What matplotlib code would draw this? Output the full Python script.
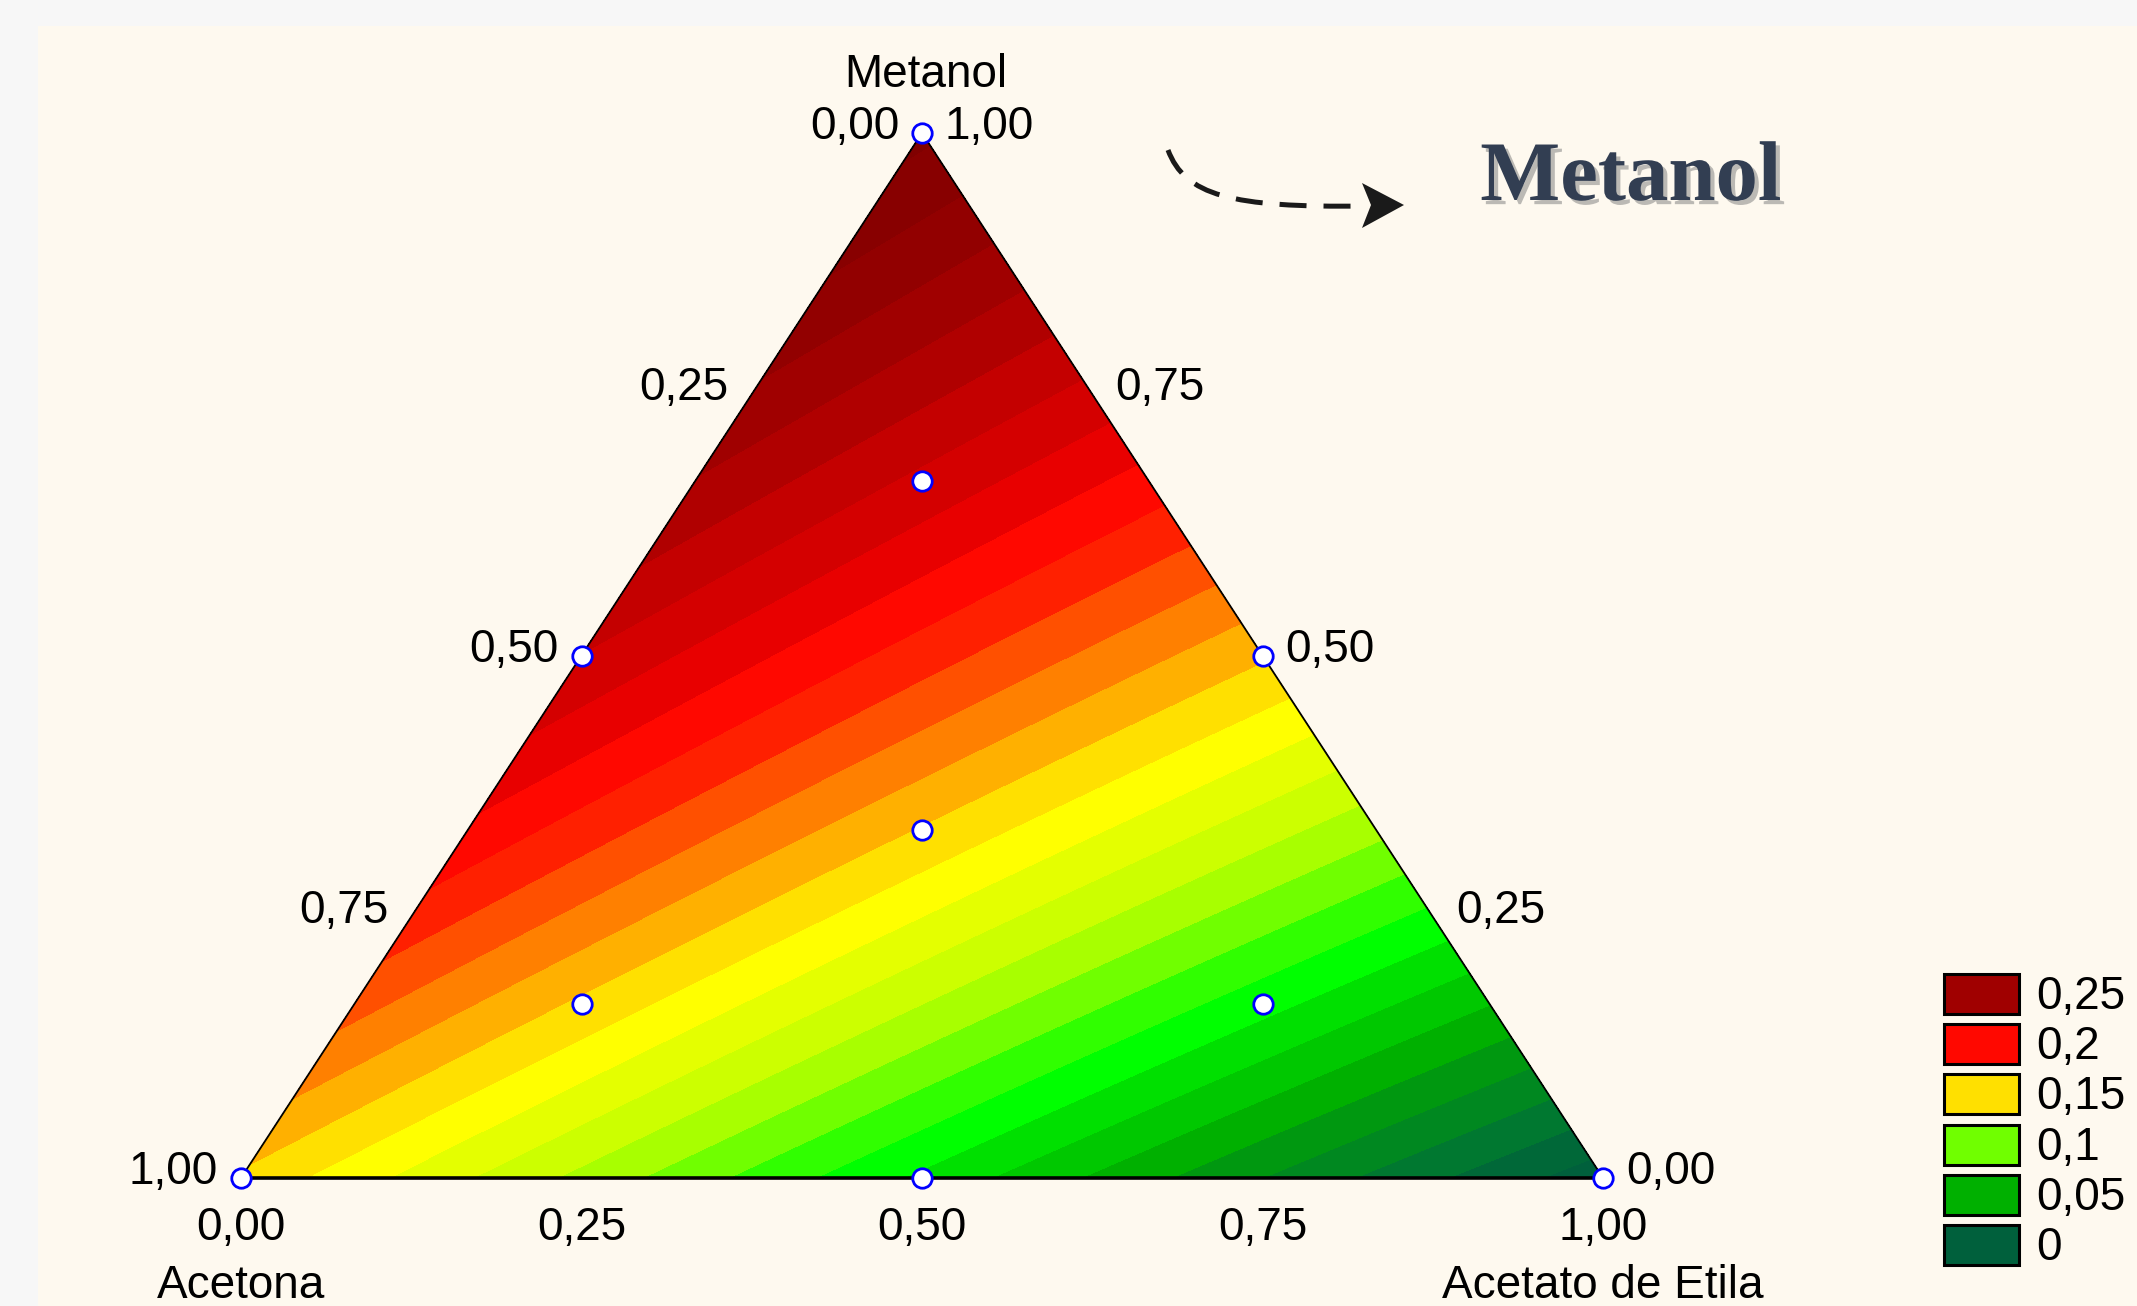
import numpy as np
import matplotlib
matplotlib.use("Agg")
import matplotlib.pyplot as plt
import matplotlib.tri as mtri
import matplotlib.patheffects as pe
from matplotlib.colors import ListedColormap, BoundaryNorm
from matplotlib.patches import Polygon, Rectangle, PathPatch
from matplotlib.path import Path

W, H = 2137, 1306

# simplex-centroid design (fractions) and response
METANOL = [1.0, 0.0, 0.0, 0.5, 0.5, 0.0, 0.3333, 0.6667, 0.1667, 0.1667]
ACETONA = [0.0, 1.0, 0.0, 0.5, 0.0, 0.5, 0.3333, 0.1667, 0.6667, 0.1667]
ACETATO = [0.0, 0.0, 1.0, 0.0, 0.5, 0.5, 0.3333, 0.1667, 0.1667, 0.6667]
RESPOSTA = [0.275, 0.152, 0.0, 0.224, 0.158, 0.076, 0.148, 0.229, 0.155, 0.074]

TICKS = [0.0, 0.25, 0.5, 0.75, 1.0]
LEGEND_VALUES = [0.25, 0.2, 0.15, 0.1, 0.05, 0.0]

# one colour per 0.01 step, 0.00 ... 0.28
LEVEL_COLORS = [
    "#00603C", "#006838", "#007830", "#008820", "#009810",
    "#00B000", "#00C800", "#00E000", "#00FF00", "#30FF00",
    "#70FF00", "#A8FF00", "#CCFF00", "#E4FF00", "#FFFF00",
    "#FFE000", "#FFB000", "#FF8000", "#FF5000", "#FF2000",
    "#FF0800", "#E80000", "#D40000", "#C40000", "#B00000",
    "#A00000", "#920000", "#880000", "#800000",
]

TOP = (922, 133)
LEFT = (241, 1178)
RIGHT = (1603, 1178)
FS = 33


def to_xy(m, c, e):
    m, c, e = np.asarray(m), np.asarray(c), np.asarray(e)
    x = m * TOP[0] + c * LEFT[0] + e * RIGHT[0]
    y = m * TOP[1] + c * LEFT[1] + e * RIGHT[1]
    return x, y


def fmt(v):
    return f"{v:.2f}".replace(".", ",")


def fit_model():
    m, c, e = np.array(METANOL), np.array(ACETONA), np.array(ACETATO)
    X = np.column_stack([m, c, e, m * c, m * e, c * e])
    coef, *_ = np.linalg.lstsq(X, np.array(RESPOSTA), rcond=None)
    return coef


def predict(coef, m, c, e):
    return coef[0] * m + coef[1] * c + coef[2] * e + coef[3] * m * c + coef[4] * m * e + coef[5] * c * e


fig = plt.figure(figsize=(W / 100, H / 100), dpi=100, facecolor="#F7F7F7")
ax = fig.add_axes([0, 0, 1, 1])
ax.set_xlim(0, W)
ax.set_ylim(H, 0)
ax.axis("off")
ax.add_patch(Rectangle((38, 26), W - 38, H - 26, facecolor="#FEF9EF", edgecolor="none", zorder=0))

# response surface
coef = fit_model()
n = 220
ii, jj = np.meshgrid(np.arange(n + 1), np.arange(n + 1))
keep = ii + jj <= n
gm = ii[keep] / n
gc = jj[keep] / n
ge = 1 - gm - gc
gx, gy = to_xy(gm, gc, ge)
z = predict(coef, gm, gc, ge)
tri = mtri.Triangulation(gx, gy)
bounds = np.arange(len(LEVEL_COLORS) + 1) * 0.01 - 0.005
cmap = ListedColormap(LEVEL_COLORS)
cmap.set_under(LEVEL_COLORS[0])
cmap.set_over(LEVEL_COLORS[-1])
norm = BoundaryNorm(bounds, cmap.N)
ax.tricontourf(tri, z, levels=bounds, cmap=cmap, norm=norm, extend="both", zorder=1)

# triangle outline
ax.plot([LEFT[0], TOP[0], RIGHT[0]], [LEFT[1], TOP[1], RIGHT[1]], color="black", lw=1.3, zorder=3)
ax.plot([LEFT[0], RIGHT[0]], [LEFT[1], RIGHT[1]], color="black", lw=2.6, zorder=3)

# design points
px, py = to_xy(METANOL, ACETONA, ACETATO)
ax.plot(px, py, "o", ls="none", ms=14, mfc="white", mec="#0000FF", mew=2.0, zorder=5)

# edge labels
for v in TICKS:
    x, y = to_xy(1 - v, v, 0)
    ax.text(x - 23, y + 6, fmt(v), fontsize=FS, family="Liberation Sans", ha="right", va="baseline")
    x, y = to_xy(v, 0, 1 - v)
    ax.text(x + 23, y + 6, fmt(v), fontsize=FS, family="Liberation Sans", ha="left", va="baseline")
    x, y = to_xy(0, 1 - v, v)
    ax.text(x, y + 62, fmt(v), fontsize=FS, family="Liberation Sans", ha="center", va="baseline")

ax.text(TOP[0] + 4, 87, "Metanol", fontsize=FS, family="Liberation Sans", ha="center", va="baseline")
ax.text(LEFT[0], 1298, "Acetona", fontsize=FS, family="Liberation Sans", ha="center", va="baseline")
ax.text(RIGHT[0], 1298, "Acetato de Etila", fontsize=FS, family="Liberation Sans", ha="center", va="baseline")

# legend
for i, v in enumerate(LEGEND_VALUES):
    y0 = 974 + i * 50.2
    ax.add_patch(Rectangle((1944, y0), 75, 40, facecolor=cmap(norm(v)), edgecolor="black", lw=2.2, zorder=4))
    ax.text(2036, y0 + 35, f"{v:g}".replace(".", ","), fontsize=FS, family="Liberation Sans",
            ha="left", va="baseline", clip_on=False)

# title with dashed arrow
curve = Path([(1168, 150), (1185, 195), (1230, 208), (1366, 206)],
             [Path.MOVETO, Path.CURVE4, Path.CURVE4, Path.CURVE4])
ax.add_patch(PathPatch(curve, facecolor="none", edgecolor="#1A1A1A", lw=3.6, capstyle="butt",
                       linestyle=(0, (5.4, 3.4)), zorder=4))
ax.add_patch(Polygon([(1404, 205), (1362, 183), (1371, 205), (1362, 228)], closed=True,
                     facecolor="#1A1A1A", edgecolor="none", zorder=4))
ax.text(1631, 200, "Metanol", fontsize=61, family="Liberation Serif", fontweight="bold", color="#323E52",
        ha="center", va="baseline",
        path_effects=[pe.withSimplePatchShadow(offset=(3, -3), shadow_rgbFace="#7A7A7A", alpha=0.5)])

fig.savefig("out.png", dpi=100, facecolor=fig.get_facecolor())
